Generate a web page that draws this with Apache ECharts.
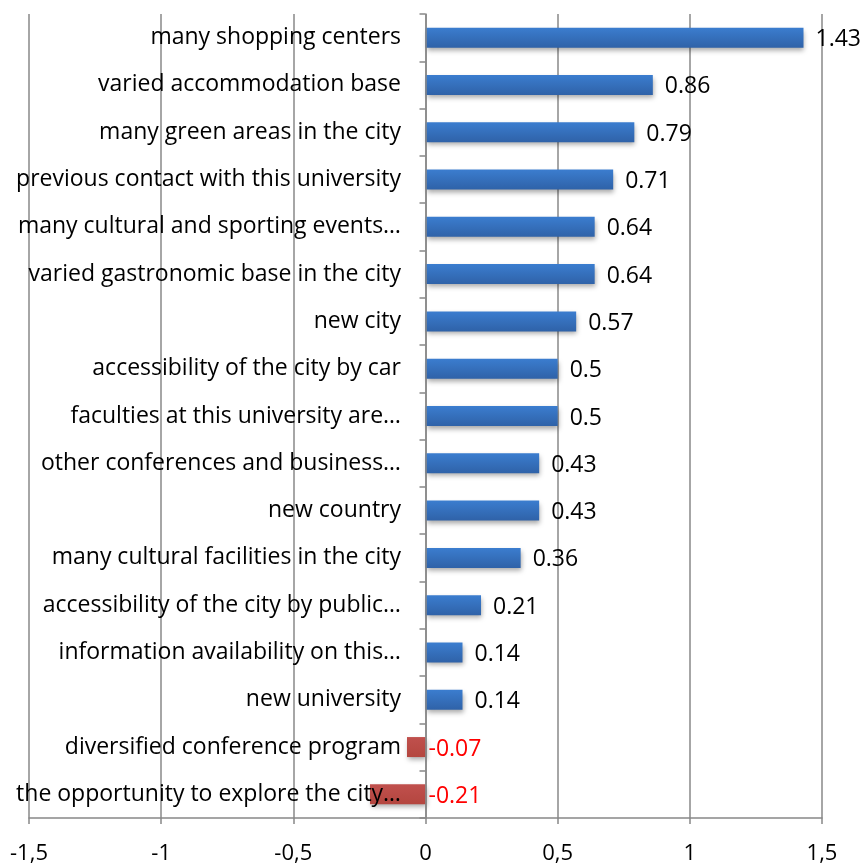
<!DOCTYPE html>
<html><head><meta charset="utf-8">
<script src="https://cdn.jsdelivr.net/npm/echarts@6/dist/echarts.min.js"></script>
<style>html,body{margin:0;padding:0;background:#fff}#c{width:860px;height:863px}</style>
</head><body><div id="c"></div>
<script>
const categories = [
  "many shopping centers",
  "varied accommodation base",
  "many green areas in the city",
  "previous contact with this university",
  "many cultural and sporting events…",
  "varied gastronomic base in the city",
  "new city",
  "accessibility of the city by car",
  "faculties at this university are…",
  "other conferences and business…",
  "new country",
  "many cultural facilities in the city",
  "accessibility of the city by public…",
  "information availability on this…",
  "new university",
  "diversified conference program",
  "the opportunity to explore the city…"
];
const values = [1.43, 0.86, 0.79, 0.71, 0.64, 0.64, 0.57, 0.5, 0.5, 0.43, 0.43, 0.36, 0.21, 0.14, 0.14, -0.07, -0.21];
const xTicks = [-1.5, -1, -0.5, 0, 0.5, 1, 1.5];

const FONT = 'Open Sans';
const blue = new echarts.graphic.LinearGradient(0, 0, 0, 1, [
  {offset: 0, color: '#3b7dcf'}, {offset: 1, color: '#2f62a8'}
]);
const red = new echarts.graphic.LinearGradient(0, 0, 0, 1, [
  {offset: 0, color: '#c0504d'}, {offset: 1, color: '#b4463f'}
]);

const chart = echarts.init(document.getElementById('c'));
chart.setOption({
  animation: false,
  grid: {left: 29, right: 38, top: 14, bottom: 45, containLabel: false, outerBoundsMode: 'none'},
  xAxis: {
    type: 'value', min: -1.5, max: 1.5, interval: 0.5,
    axisLine: {show: true, lineStyle: {color: '#888', width: 1.5}},
    axisTick: {show: true, length: 6, lineStyle: {color: '#888', width: 1.5}},
    splitLine: {show: true, lineStyle: {color: '#888', width: 1.5}},
    axisLabel: {
      fontFamily: FONT, fontSize: 22, color: '#000', margin: 25,
      formatter: v => String(v).replace('.', ',')
    }
  },
  yAxis: {
    type: 'category', data: categories, inverse: true, z: 3,
    axisLine: {show: true, onZero: true, lineStyle: {color: '#888', width: 1.5}},
    axisTick: {show: true, length: 6, lineStyle: {color: '#888', width: 1.5}},
    axisLabel: {fontFamily: FONT, fontSize: 23, color: '#000', margin: -372, padding: [4, 0, 0, 0]}
  },
  series: [{
    type: 'bar',
    data: values.map(v => ({
      value: v,
      itemStyle: {color: v < 0 ? red : blue},
      label: {color: v < 0 ? '#ff0000' : '#000', distance: v < 0 ? 3 : 12}
    })),
    barWidth: 20,
    itemStyle: {shadowBlur: 5, shadowOffsetX: 1, shadowOffsetY: 3, shadowColor: 'rgba(0,0,0,0.35)'},
    label: {
      show: true, position: 'right', offset: [0, 2],
      fontFamily: FONT, fontSize: 23,
      formatter: p => String(p.value)
    }
  }]
});
</script></body></html>
